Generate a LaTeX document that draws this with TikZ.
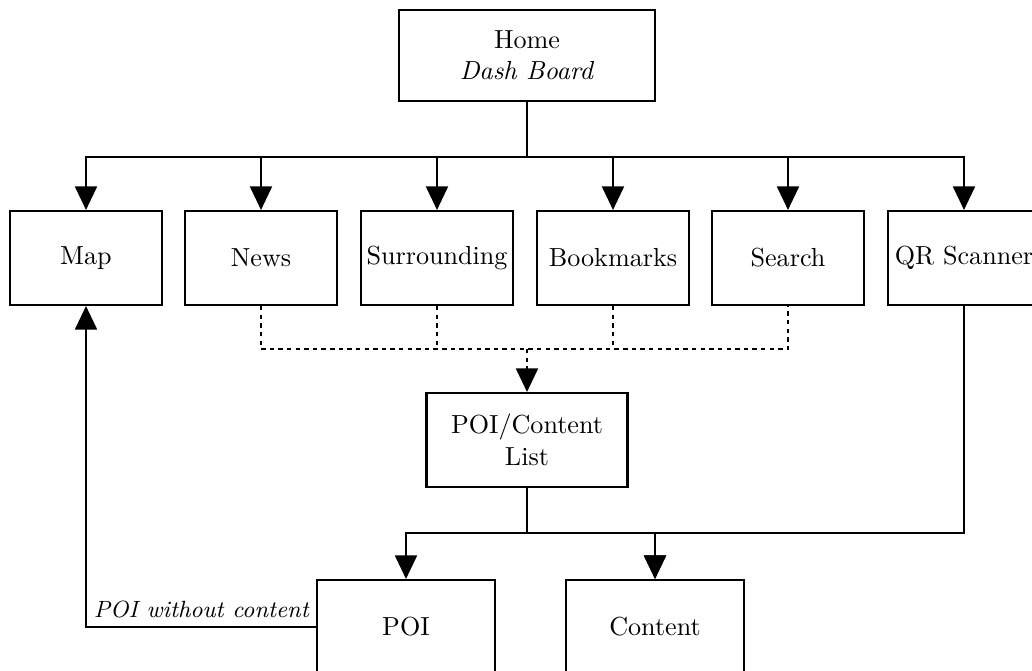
\documentclass[tikz,border=0pt]{standalone}
\usetikzlibrary{arrows.meta}
\begin{document}
\begin{tikzpicture}[x=0.01346cm,y=-0.01346cm,
  box/.style={draw,line width=0.8pt,minimum width=2.046cm,minimum height=1.265cm,
              inner sep=1pt,align=center},
  link/.style={line width=0.8pt,-{Triangle[length=9pt,width=8.4pt]}},
  plainlink/.style={line width=0.8pt},
  dotlink/.style={line width=0.8pt,dash pattern=on 1.7pt off 1.6pt}]
\useasboundingbox (0,0) rectangle (1032,671);
\clip (0,0) rectangle (1032,671);

% top level
\node[box,minimum width=3.446cm,minimum height=1.225cm] (home) at (527,55.5)
  {Home\\\textit{Dash Board}};

% second level
\node[box] (map)  at (86,258)  {Map};
\node[box] (news) at (261,258) {News};
\node[box] (surr) at (437,258) {Surrounding};
\node[box] (book) at (613,258) {Bookmarks};
\node[box] (srch) at (788,258) {Search};
\node[box] (qr)   at (964,258) {QR Scanner};

% list and details
\node[box,minimum width=2.705cm] (list) at (527,440) {POI/Content\\List};
\node[box,minimum width=2.396cm] (poi) at (406,627) {POI};
\node[box,minimum width=2.396cm] (cont) at (655,627) {Content};

% junction points
\coordinate (bus)   at (527,157);
\coordinate (dbus)  at (527,349);
\coordinate (lbus)  at (527,533);
\coordinate (qrbus) at (964,533);

% home to sections
\draw[plainlink] (home.south) -- (bus);
\foreach \n in {map,news,surr,book,srch,qr}
  \draw[link] (bus) -| (\n.north);

% sections to list (dashed)
\draw[dotlink] (news.south) |- (dbus) -| (srch.south);
\draw[dotlink] (surr.south) -- (surr.south |- dbus);
\draw[dotlink] (book.south) -- (book.south |- dbus);
\draw[dotlink,link] (dbus) -- (list.north);

% list to details
\draw[plainlink] (list.south) -- (lbus);
\draw[link] (lbus) -| (poi.north);
\draw[link] (lbus) -| (cont.north);

% QR scanner straight to content
\draw[link] (qr.south) -- (qrbus) -| (cont.north);

% POI back to map
\draw[link] (poi.west) -| (map.south)
  node[pos=0,anchor=south east,inner sep=3pt,xshift=1pt] {\small\textit{POI without content}};
\end{tikzpicture}
\end{document}
